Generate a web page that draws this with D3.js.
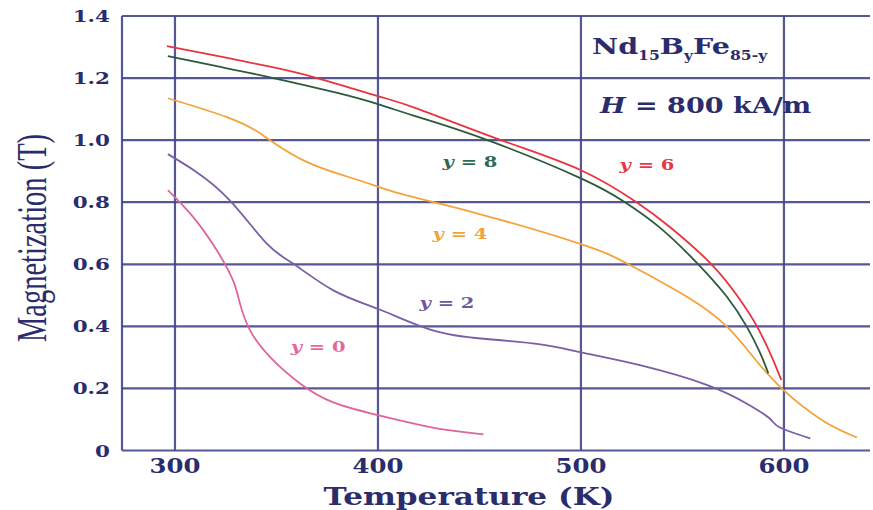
<!DOCTYPE html>
<html>
<head>
<meta charset="utf-8">
<script src="https://cdn.jsdelivr.net/npm/d3@7"></script>
<style>
  body { margin: 0; background: #fff; }
  svg { display: block; }
  text { fill: #2a2c6c; }
</style>
</head>
<body>
<div id="chart"></div>
<script>
// magnetization vs temperature, Nd15ByFe85-y
const series = ['y0', 'y2', 'y4', 'y6', 'y8'];

const curveY0 = [[296.5,0.839],[309,0.752],[320.6,0.645],[328.6,0.548],[332,0.474],[337,0.387],
  [347,0.3],[361.6,0.216],[378,0.155],[400.5,0.113],[427,0.074],[452,0.052]];
const curveY2 = [[296.5,0.955],[310,0.9],[327,0.806],[345,0.668],[358,0.603],[378,0.516],
  [400.5,0.455],[427,0.387],[452,0.36],[480,0.342],[500,0.316],[529.5,0.274],[562.6,0.21],
  [582,0.15],[593,0.103],[598,0.074],[613,0.039]];
const curveY4 = [[296.5,1.135],[325.6,1.074],[340,1.03],[346.8,1.0],[366.5,0.925],[391,0.87],
  [410,0.829],[450,0.762],[500,0.665],[523.4,0.6],[552,0.496],[571.8,0.4],[584.7,0.303],[598.9,0.2],
  [619,0.097],[636,0.042]];
const curveY6 = [[296,1.303],[322,1.27],[348,1.235],[370,1.2],[400,1.142],[420,1.1],[460.6,1.0],
  [500,0.903],[527.4,0.8],[543.8,0.72],[564.3,0.6],[577.7,0.492],[586.7,0.4],[594.1,0.3],[598.7,0.227]];
const curveY8 = [[296.5,1.271],[320,1.239],[348,1.201],[380,1.152],[400,1.116],[420,1.074],[454,1.0],
  [500,0.877],[521.7,0.8],[538.9,0.718],[557.8,0.6],[571.8,0.496],[581.6,0.4],[588.2,0.315],[592.3,0.249]];

const curves = {y0: curveY0, y2: curveY2, y4: curveY4, y6: curveY6, y8: curveY8};
const colors = {y0: '#e0649d', y2: '#7a5ea6', y4: '#f4a23a', y6: '#e8343f', y8: '#2c5a3a'};
const labelColors = {y0: '#e06aa0', y2: '#6e58a0', y4: '#f2a33a', y6: '#e43a48', y8: '#2f6a57'};
// label centres in data units (T, M) and the value after "y = "
const labelValues = {y0: '0', y2: '2', y4: '4', y6: '6', y8: '8'};
const labelPos = {y0: [370.5, 0.334], y2: [434, 0.476], y4: [440.4, 0.70], y6: [532.5, 0.92], y8: [445.3, 0.93]};

const xTicks = [300, 400, 500, 600];
const yTicks = [0, 0.2, 0.4, 0.6, 0.8, 1.0, 1.2, 1.4];
const yTickLabels = ['0', '0.2', '0.4', '0.6', '0.8', '1.0', '1.2', '1.4'];

const W = 873, H = 510;
const margin = {t: 16, r: 3, b: 59.5, l: 122};
const SX = 1.3;  // the source picture is stretched sideways

const x = d3.scaleLinear().domain([273.9, 642.4]).range([margin.l, W - margin.r]);
const y = d3.scaleLinear().domain([0, 1.4]).range([H - margin.b, margin.t]);

const svg = d3.select('#chart').append('svg')
  .attr('width', W).attr('height', H)
  .attr('font-family', 'DejaVu Serif');

// grid + frame
const grid = svg.append('g')
  .attr('stroke', '#44468a').attr('stroke-width', 2.2).attr('stroke-opacity', 0.9);

grid.selectAll('.h').data(yTicks).join('line')
  .attr('x1', margin.l).attr('x2', W - margin.r)
  .attr('y1', d => y(d)).attr('y2', d => y(d));

grid.selectAll('.v').data(xTicks).join('line')
  .attr('x1', d => x(d)).attr('x2', d => x(d))
  .attr('y1', y(1.4)).attr('y2', y(0));

grid.append('line')
  .attr('x1', margin.l).attr('x2', margin.l)
  .attr('y1', y(1.4)).attr('y2', y(0));

// curves
const line = d3.line()
  .x(d => x(d[0])).y(d => y(d[1]))
  .curve(d3.curveNatural);

svg.append('g').selectAll('path').data(series).join('path')
  .attr('d', s => line(curves[s]))
  .attr('fill', 'none')
  .attr('stroke', s => colors[s])
  .attr('stroke-width', 1.8);

// stretched text helper
function stretched(g, px, py, sx) {
  return g.append('g').attr('transform', `translate(${px},${py}) scale(${sx},1)`);
}

// y ticks
yTicks.forEach((d, i) => {
  stretched(svg, 110, y(d) + 6, SX).append('text')
    .attr('text-anchor', 'end')
    .attr('font-weight', 'bold').attr('font-size', 16.5)
    .text(yTickLabels[i]);
});

// x ticks
xTicks.forEach(d => {
  stretched(svg, x(d), 473, 1.22).append('text')
    .attr('text-anchor', 'middle')
    .attr('font-weight', 'bold').attr('font-size', 20)
    .text(d);
});

// axis titles
stretched(svg, 469, 505, 1.27).append('text')
  .attr('text-anchor', 'middle')
  .attr('font-weight', 'bold').attr('font-size', 24.5)
  .text('Temperature (K)');

svg.append('g').attr('transform', `translate(46,238) scale(1.45,1) rotate(-90)`)
  .append('text')
  .attr('text-anchor', 'middle')
  .attr('font-family', 'Liberation Serif').attr('font-size', 28.5)
  .text('Magnetization (T)');

// curve labels
series.forEach(s => {
  const t = stretched(svg, x(labelPos[s][0]), y(labelPos[s][1]), SX).append('text')
    .attr('text-anchor', 'middle').attr('dy', '0.36em')
    .attr('font-weight', 'bold').attr('font-size', 15)
    .style('fill', labelColors[s]);
  t.append('tspan').attr('font-style', 'italic').text('y');
  t.append('tspan').text(' = ' + labelValues[s]);
});

// annotations
const a1 = stretched(svg, 592, 54, 1.3).append('text')
  .attr('font-weight', 'bold').attr('font-size', 22);
a1.append('tspan').text('Nd');
a1.append('tspan').attr('font-size', 12).attr('dy', 6).text('15');
a1.append('tspan').attr('dy', -6).text('B');
a1.append('tspan').attr('font-size', 12).attr('dy', 6).text('y');
a1.append('tspan').attr('dy', -6).text('Fe');
a1.append('tspan').attr('font-size', 12).attr('dy', 6).text('85-y');

const a2 = stretched(svg, 600, 113, 1.23).append('text')
  .attr('font-weight', 'bold').attr('font-size', 22);
a2.append('tspan').attr('font-style', 'italic').text('H');
a2.append('tspan').text(' = 800 kA/m');
</script>
</body>
</html>
